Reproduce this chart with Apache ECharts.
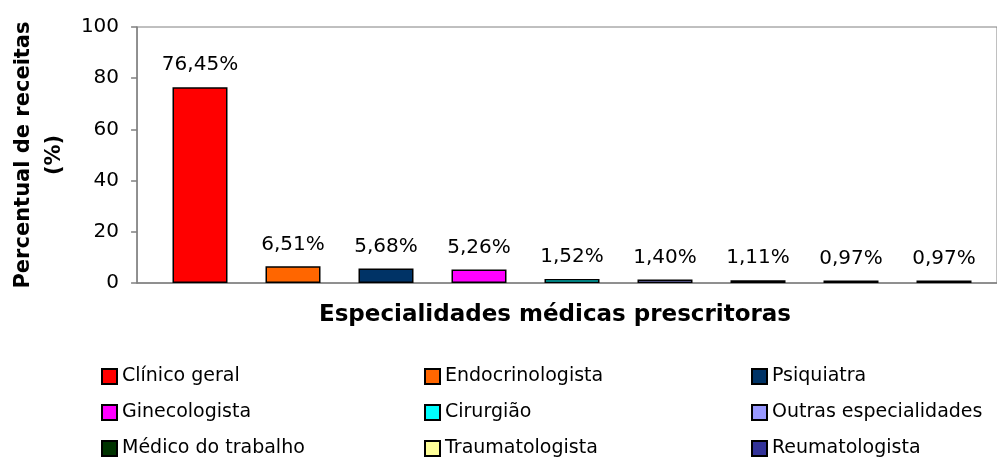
<!DOCTYPE html>
<html>
<head>
<meta charset="utf-8">
<script src="https://cdn.jsdelivr.net/npm/echarts@6/dist/echarts.min.js"></script>
<style>
  html, body { margin: 0; padding: 0; background: #fff; }
  #chart { width: 997px; height: 460px; }
</style>
</head>
<body>
<div id="chart"></div>
<script>
// dados
const categories = [
  'Clínico geral', 'Endocrinologista', 'Psiquiatra',
  'Ginecologista', 'Cirurgião', 'Outras especialidades',
  'Médico do trabalho', 'Traumatologista', 'Reumatologista'
];
const percents = [76.45, 6.51, 5.68, 5.26, 1.52, 1.40, 1.11, 0.97, 0.97];
const yTicks = { min: 0, max: 100, interval: 20 };

const barColors = [
  '#FF0000', '#FF6600', '#003366',
  '#FF00FF', '#00FFFF', '#9999FF',
  '#003300', '#FFFF99', '#333399'
];

const FONT = '"DejaVu Sans", "Liberation Sans", Arial, sans-serif';
const AXIS_GREY = '#808080';

const fmt = v => v.toFixed(2).replace('.', ',') + '%';

const series = categories.map((name, i) => ({
  name,
  type: 'bar',
  stack: 'all',
  xAxisIndex: 1,
  yAxisIndex: 1,
  barWidth: 55,
  silent: true,
  itemStyle: { color: barColors[i], borderColor: '#000', borderWidth: 1.5 },
  label: {
    show: true,
    position: 'top',
    distance: 12,
    color: '#000',
    fontFamily: FONT,
    fontSize: 20,
    formatter: p => fmt(p.value)
  },
  data: categories.map((c, j) => (j === i ? percents[i] : '-'))
}));

// legenda em 3 colunas
const legendCols = [101, 424, 751];
const legends = legendCols.map((left, c) => ({
  orient: 'vertical',
  left,
  bottom: 2,
  padding: 0,
  itemWidth: 15,
  itemHeight: 15,
  itemGap: 17,
  selectedMode: false,
  icon: 'rect',
  textStyle: { fontFamily: FONT, fontSize: 19, color: '#000', lineHeight: 15 },
  data: categories.filter((_, i) => i % 3 === c)
}));

const chart = echarts.init(document.getElementById('chart'), null, { renderer: 'canvas' });

chart.setOption({
  animation: false,
  backgroundColor: '#fff',
  grid: [
    { left: 134, top: 27, right: -10, height: 256, show: true, borderColor: AXIS_GREY, borderWidth: 1 },
    { left: 153.5, top: 27, width: 837, height: 256 }
  ],
  xAxis: [
    {
      gridIndex: 0, type: 'value', min: 0, max: 1,
      axisLine: { show: true, lineStyle: { color: AXIS_GREY, width: 1.5 } },
      axisTick: { show: false }, axisLabel: { show: false }, splitLine: { show: false }
    },
    {
      gridIndex: 1, type: 'category', data: categories, show: false
    }
  ],
  yAxis: [
    {
      gridIndex: 0, type: 'value',
      min: yTicks.min, max: yTicks.max, interval: yTicks.interval,
      axisLine: { show: true, lineStyle: { color: AXIS_GREY, width: 1.5 } },
      axisTick: { show: true, length: 6, lineStyle: { color: AXIS_GREY, width: 1.5 } },
      axisLabel: { color: '#000', fontFamily: FONT, fontSize: 20, margin: 18 },
      splitLine: { show: false },
      name: 'Percentual de receitas\n(%)',
      nameLocation: 'middle',
      nameGap: 66,
      nameTextStyle: { fontFamily: FONT, fontWeight: 'bold', fontSize: 21, color: '#000', lineHeight: 31 }
    },
    {
      gridIndex: 1, type: 'value', min: yTicks.min, max: yTicks.max, show: false
    }
  ],
  legend: legends,
  graphic: [
    {
      type: 'text',
      x: 555,
      y: 315,
      style: {
        text: 'Especialidades médicas prescritoras',
        font: 'bold 23px ' + FONT,
        fill: '#000',
        textAlign: 'center',
        textVerticalAlign: 'middle'
      }
    }
  ],
  series
});
</script>
</body>
</html>
